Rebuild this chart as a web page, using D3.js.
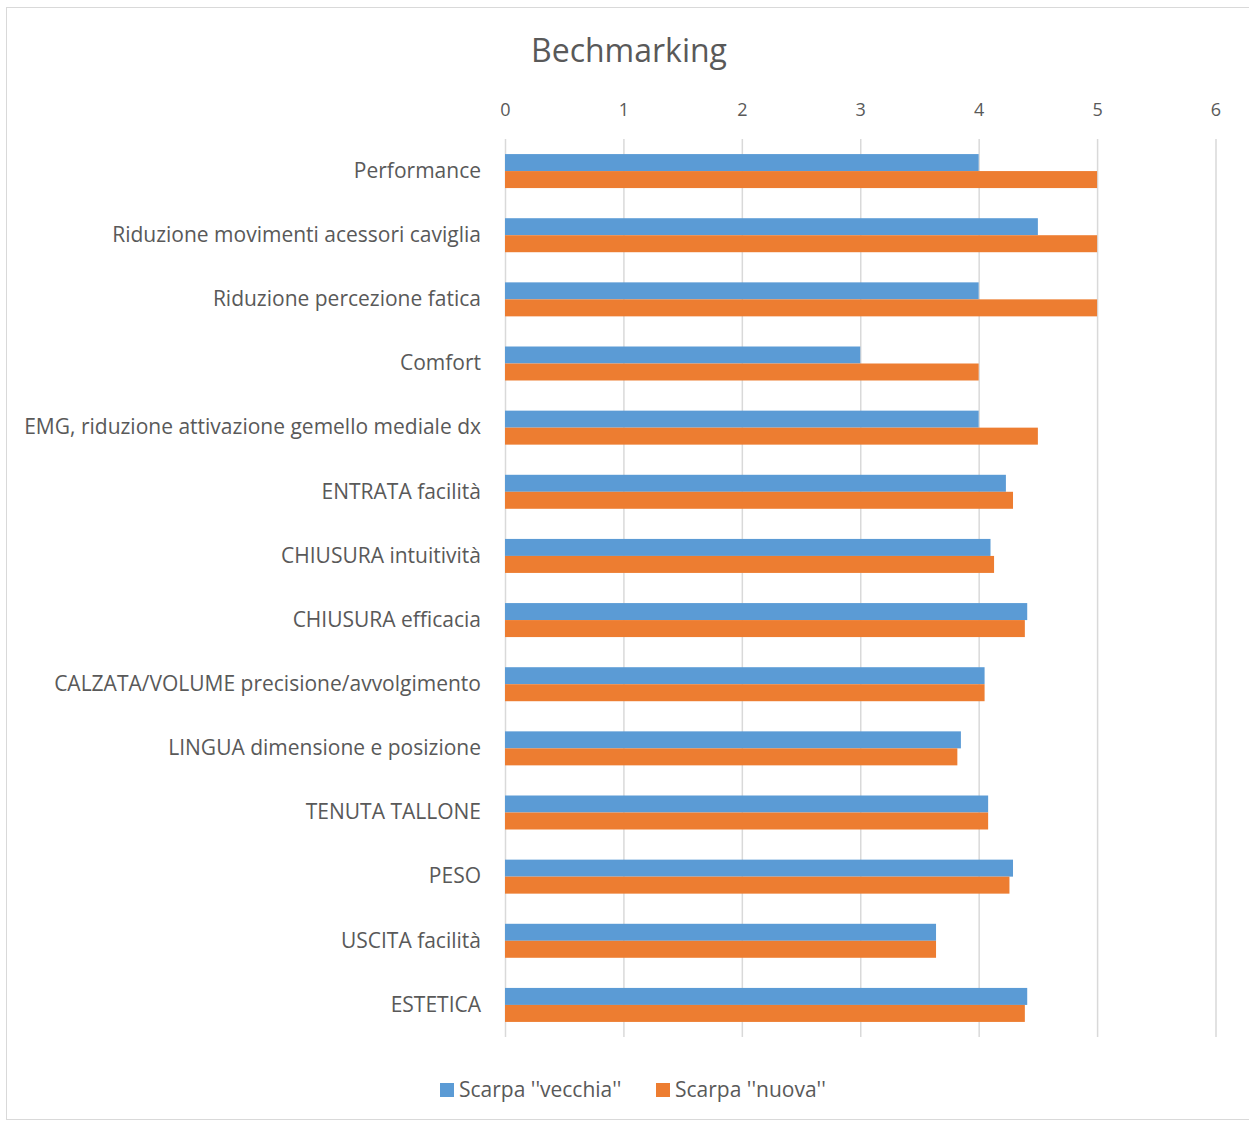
<!DOCTYPE html>
<html><head><meta charset="utf-8">
<script src="https://cdn.jsdelivr.net/npm/d3@7"></script>
<style>body{margin:0;background:#fff;} text{font-family:"Open Sans", Lato, sans-serif;}</style>
</head><body>
<svg id="c" width="1249" height="1122"></svg>
<script>
const categories = ["Performance","Riduzione movimenti acessori caviglia","Riduzione percezione fatica","Comfort","EMG, riduzione attivazione gemello mediale dx","ENTRATA facilità","CHIUSURA intuitività","CHIUSURA efficacia","CALZATA/VOLUME precisione/avvolgimento","LINGUA dimensione e posizione","TENUTA TALLONE","PESO","USCITA facilità","ESTETICA"];
const vecchia = [4,4.5,4,3,4,4.23,4.10,4.41,4.05,3.85,4.08,4.29,3.64,4.41];
const nuova = [5,5,5,4,4.5,4.29,4.13,4.39,4.05,3.82,4.08,4.26,3.64,4.39];
const seriesNames = ["Scarpa ''vecchia''","Scarpa ''nuova''"];
const xTicks = [0,1,2,3,4,5,6];
const colors = ["#5B9BD5","#ED7D31"];

const svg = d3.select("#c");
svg.append("rect").attr("x",6.5).attr("y",7.5).attr("width",1260).attr("height",1112).attr("fill","none").attr("stroke","#d9d9d9");

const x = d3.scaleLinear().domain([0,6]).range([505,1215.5]);
const y = d3.scaleBand().domain(categories).range([139,1037]).paddingInner(0.47).paddingOuter(0.235);
const sub = d3.scaleBand().domain([0,1]).range([0,y.bandwidth()]);

function fit(sel, target, base){
  const w = sel.node().getComputedTextLength();
  sel.attr("font-size", base*target/w);
}

const title = svg.append("text").attr("x",629).attr("y",62).attr("text-anchor","middle").attr("font-size",28).attr("fill","#595959").text("Bechmarking");
fit(title,196,28);

const g = svg.append("g");
g.selectAll("line.grid").data(xTicks).join("line").attr("class","grid")
 .attr("x1",d=>x(d)+0.5).attr("x2",d=>x(d)+0.5).attr("y1",139).attr("y2",1037)
 .attr("stroke","#d9d9d9").attr("stroke-width",1.5);

const axis = d3.axisTop(x).tickValues(xTicks).tickFormat(d3.format("d")).tickSize(0).tickPadding(0);
const ag = svg.append("g").attr("transform","translate(0,116)").call(axis);
ag.select(".domain").remove();
ag.selectAll("text").attr("font-size",18).attr("fill","#595959").style("font-family","'Open Sans', sans-serif");

[vecchia,nuova].forEach((vals,si)=>{
  g.selectAll("rect.s"+si).data(vals).join("rect").attr("class","s"+si)
   .attr("x",x(0)).attr("y",(d,i)=>y(categories[i])+sub(si))
   .attr("width",d=>x(d)-x(0)).attr("height",sub.bandwidth())
   .attr("fill",colors[si]);
});

const ya = d3.axisLeft(y).tickSize(0).tickPadding(0);
const yg = svg.append("g").attr("transform","translate(481,0)").call(ya);
yg.select(".domain").remove();
yg.selectAll("text").attr("font-size",18).attr("fill","#595959").style("font-family","'Open Sans', sans-serif");
// scale labels so that the longest matches the reference width
const emg = yg.selectAll("text").filter(d=>d.startsWith("EMG"));
const wEmg = emg.node().getComputedTextLength();
const fs = 18*457/wEmg;
yg.selectAll("text").attr("font-size",fs);

const leg = svg.append("g");
const legX = [440,656];
seriesNames.forEach((n,i)=>{
  const t = leg.append("text").attr("x",legX[i]+19).attr("y",1097).attr("font-size",fs).attr("fill","#595959").text(n);
  leg.append("rect").attr("x",legX[i]).attr("y",1083).attr("width",14).attr("height",14).attr("fill",colors[i]);
});
</script>
</body></html>
